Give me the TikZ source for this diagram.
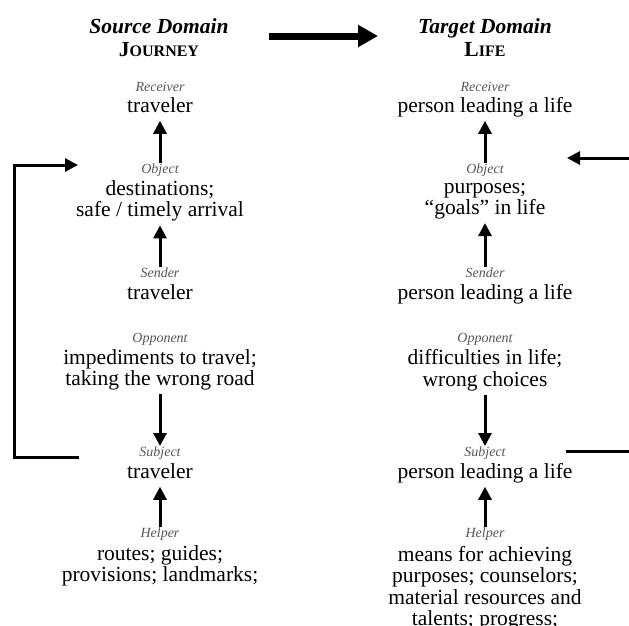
\documentclass[tikz,border=0pt]{standalone}
\usepackage{fontspec}
\setmainfont{Liberation Serif}
\usepackage{tikz}
\usetikzlibrary{arrows.meta}
\usepackage{xcolor}
\definecolor{DiagBlack}{HTML}{000000}
\definecolor{DiagGray}{HTML}{555555}
\newcommand{\fakesc}[2]{#1{\fontsize{16}{16}\selectfont #2}}
\tikzset{
    role/.style={
        text=DiagGray,
        font=\fontsize{14}{14}\selectfont\itshape,
        inner sep=0pt,
        outer sep=1pt,
        execute at begin node=\strut
    },
    item/.style={
        text=DiagBlack,
        font=\fontsize{21.5}{21.5}\selectfont,
        align=center,
        inner sep=0pt,
        outer sep=2pt,
        execute at begin node=\strut,
        execute at end node=\strut
    },
    heading/.style={
        text=DiagBlack,
        font=\fontsize{21.5}{23}\selectfont\bfseries,
        align=center,
        inner sep=0pt,
        execute at begin node=\strut,
        execute at end node=\strut
    },
    arrow/.style={
        -{Triangle[length=13pt,width=13pt]},
        line width=3pt,
        DiagBlack
    },
    bigarrow/.style={
        -{Triangle[length=20pt,width=21pt]},
        line width=7pt,
        DiagBlack
    },
    bracket/.style={
        -{Triangle[length=13pt,width=13pt]},
        line width=3pt,
        line join=miter,
        DiagBlack
    }
}

\begin{document}
\begin{tikzpicture}[x=1pt, y=-1pt]
    \useasboundingbox (0,0) rectangle (629,625);
    \clip (0,0) rectangle (629,625);

    % Headings
    \node[heading] (src) at (159,41) {\textit{Source Domain}\\ \fakesc{J}{OURNEY}};
    \node[heading] (tgt) at (485,41) {\textit{Target Domain}\\ \fakesc{L}{IFE}};
    \draw[bigarrow] ([xshift=40pt,yshift=5pt]src.east) -- ([xshift=-40pt,yshift=5pt]tgt.west);

    % Source domain
    \node[role] (sRecL) at (160,89) {Receiver};
    \node[item] (sRec) at (160,108) {traveler};
    \node[role] (sObjL) at (160,171) {Object};
    \node[item] (sObj) at (160,202) {destinations;\\ safe / timely arrival};
    \node[role] (sSndL) at (160,275) {Sender};
    \node[item] (sSnd) at (160,295) {traveler};
    \node[role] (sOppL) at (160,340) {Opponent};
    \node[item] (sOpp) at (160,371) {impediments to travel;\\ taking the wrong road};
    \node[role] (sSubL) at (160,454) {Subject};
    \node[item] (sSub) at (160,474) {traveler};
    \node[role] (sHlpL) at (160,535) {Helper};
    \node[item] (sHlp) at (160,567) {routes; guides;\\ provisions; landmarks;};

    \draw[arrow] (sObjL) -- (sRec);
    \draw[arrow] (sSndL) -- (sObj);
    \draw[arrow] (sOpp) -- (sSubL);
    \draw[arrow] (sHlpL) -- (sSub);

    % Target domain
    \node[role] (tRecL) at (485,89) {Receiver};
    \node[item] (tRec) at (485,108) {person leading a life};
    \node[role] (tObjL) at (485,171) {Object};
    \node[item] (tObj) at (485,202) {purposes;\\ “goals” in life};
    \node[role] (tSndL) at (485,275) {Sender};
    \node[item] (tSnd) at (485,295) {person leading a life};
    \node[role] (tOppL) at (485,340) {Opponent};
    \node[item] (tOpp) at (485,371) {difficulties in life;\\ wrong choices};
    \node[role] (tSubL) at (485,454) {Subject};
    \node[item] (tSub) at (485,474) {person leading a life};
    \node[role] (tHlpL) at (485,535) {Helper};
    \node[item] (tHlp) at (485,589) {means for achieving\\ purposes; counselors;\\ material resources and\\ talents; progress;};

    \draw[arrow] (tObjL) -- (tRec);
    \draw[arrow] (tSndL) -- (tObj);
    \draw[arrow] (tOpp) -- (tSubL);
    \draw[arrow] (tHlpL) -- (tSub);

    % Feedback brackets
    \coordinate (lBot) at (79,457);
    \coordinate (lTop) at (78,165);
    \draw[bracket] (lBot) -- ++(-65,0) |- (lTop);
    \coordinate (rBot) at (566,451);
    \coordinate (rTop) at (567,158);
    \draw[bracket] (rBot) -- ++(80,0) |- (rTop);
\end{tikzpicture}
\end{document}
